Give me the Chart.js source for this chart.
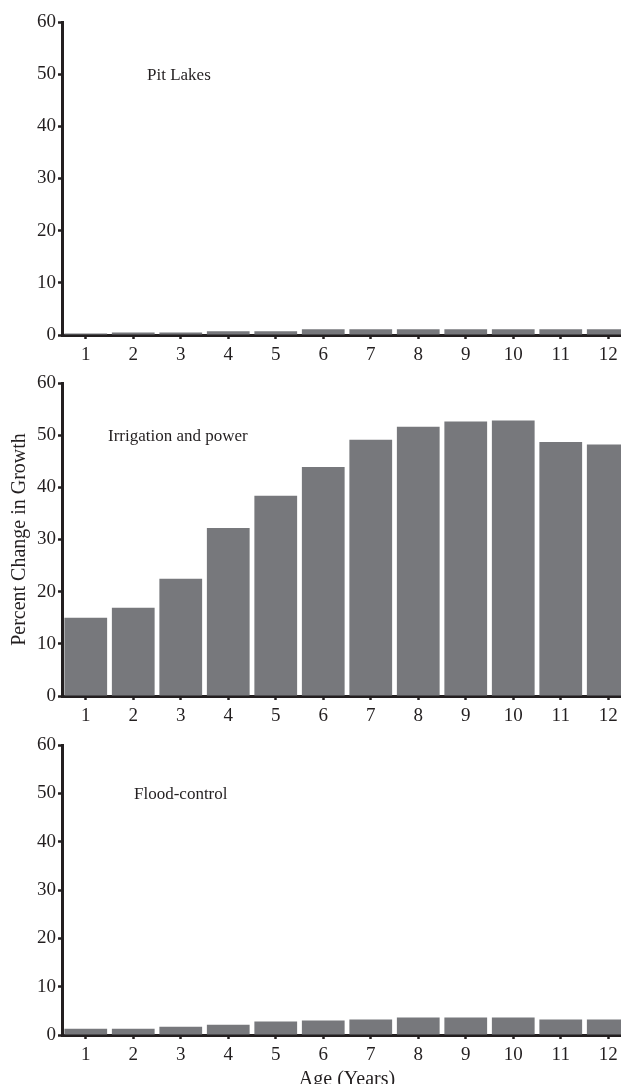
<!DOCTYPE html>
<html>
<head>
<meta charset="utf-8">
<script src="https://cdn.jsdelivr.net/npm/chart.js@4"></script>
<style>
  html, body { margin: 0; padding: 0; background: #fff; overflow: hidden; }
  body { width: 621px; height: 1084px; position: relative; }
  canvas { position: absolute; left: 0; }
</style>
</head>
<body>
<canvas id="pit" width="634" height="370" style="top:0px"></canvas>
<canvas id="irr" width="634" height="370" style="top:360px"></canvas>
<canvas id="flood" width="634" height="372" style="top:720px"></canvas>
<script>
// data
let ages = ['1', '2', '3', '4', '5', '6', '7', '8', '9', '10', '11', '12'];
let pitLakes = [0.3, 0.5, 0.5, 0.7, 0.7, 1.1, 1.1, 1.1, 1.1, 1.1, 1.1, 1.1];
let irrigation = [15.0, 16.9, 22.5, 32.2, 38.4, 43.9, 49.1, 51.6, 52.6, 52.8, 48.7, 48.2];
let floodControl = [1.3, 1.3, 1.7, 2.1, 2.8, 3.0, 3.2, 3.6, 3.6, 3.6, 3.2, 3.2];
let yTicks = [0, 10, 20, 30, 40, 50, 60];

const ink = '#231f20';
const barGrey = '#77787c';
const serif = '"Liberation Serif", "Times New Roman", serif';

// panel label drawn at the height of the 50 line
const notePlugin = {
    id: 'note',
    afterDatasetsDraw(chart, args, opts) {
        let ctx = chart.ctx;
        ctx.save();
        ctx.font = '17px ' + serif;
        ctx.fillStyle = ink;
        ctx.textBaseline = 'middle';
        ctx.fillText(opts.text, opts.x, chart.scales.y.getPixelForValue(50) + 1);
        ctx.restore();
    }
};

function makePanel(id, values, note, noteX, padTop, xHeight, yTitle, xTitle) {
    new Chart(document.getElementById(id), {
        type: 'bar',
        data: {
            labels: ages,
            datasets: [{
                data: values,
                backgroundColor: barGrey,
                borderWidth: 0,
                categoryPercentage: 1.0,
                barPercentage: 0.9
            }]
        },
        options: {
            responsive: false,
            animation: false,
            layout: { padding: { top: padTop, left: 0, right: 2, bottom: 0 } },
            plugins: {
                legend: { display: false },
                tooltip: { enabled: false },
                note: { text: note, x: noteX }
            },
            scales: {
                x: {
                    offset: true,
                    grid: {
                        offset: false,
                        drawOnChartArea: false,
                        drawTicks: true,
                        tickLength: 4,
                        tickWidth: 2.5,
                        tickColor: ink
                    },
                    border: { display: true, width: 3, color: ink },
                    ticks: {
                        font: { family: serif, size: 19 },
                        color: ink,
                        padding: 5,
                        maxRotation: 0,
                        autoSkip: false
                    },
                    title: {
                        display: !!xTitle,
                        text: xTitle || '',
                        font: { family: serif, size: 20 },
                        color: ink,
                        padding: { top: 0, bottom: 0 }
                    },
                    afterFit: function (scale) { scale.height = xHeight; }
                },
                y: {
                    min: 0,
                    max: 60,
                    afterBuildTicks: function (scale) {
                        scale.ticks = yTicks.map(v => ({ value: v }));
                    },
                    grid: {
                        drawOnChartArea: false,
                        drawTicks: true,
                        tickLength: 4,
                        tickWidth: 2.5,
                        tickColor: ink
                    },
                    border: { display: true, width: 3, color: ink },
                    ticks: {
                        font: { family: serif, size: 19 },
                        color: ink,
                        padding: 2
                    },
                    title: {
                        display: !!yTitle,
                        text: yTitle || '',
                        font: { family: serif, size: 20 },
                        color: ink,
                        padding: { top: 8, bottom: 0 }
                    },
                    afterFit: function (scale) { scale.width = 62; }
                }
            }
        },
        plugins: [notePlugin]
    });
}

makePanel('pit', pitLakes, 'Pit Lakes', 147, 22, 35, null, null);
makePanel('irr', irrigation, 'Irrigation and power', 108, 23, 34, 'Percent Change in Growth', null);
makePanel('flood', floodControl, 'Flood-control', 134, 25, 57, null, 'Age (Years)');
</script>
</body>
</html>
